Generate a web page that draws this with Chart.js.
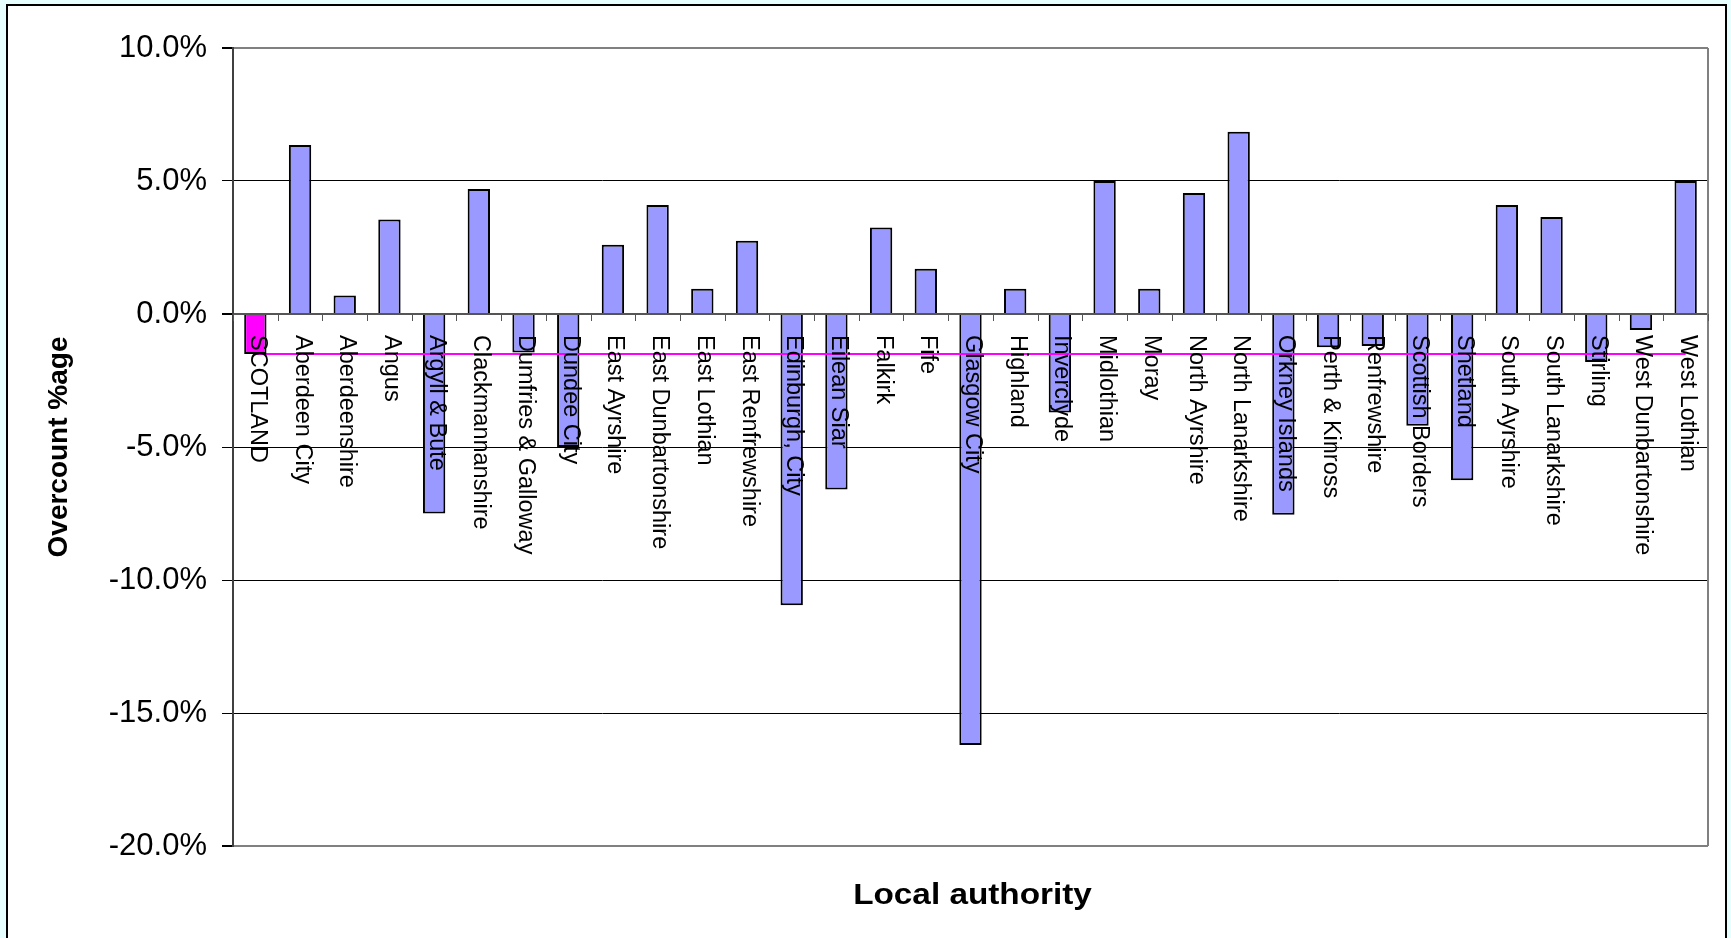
<!DOCTYPE html>
<html>
<head>
<meta charset="utf-8">
<title>Overcount by local authority</title>
<script src="https://cdn.jsdelivr.net/npm/chart.js@4"></script>
<style>
    html, body { margin: 0; padding: 0; background: #E8FFFF; }
    canvas { display: block; }
</style>
</head>
<body>
<canvas id="overcount" width="1731" height="938"></canvas>
<script>
// ─── Data ───
const categories = [
    'SCOTLAND', 'Aberdeen City', 'Aberdeenshire', 'Angus', 'Argyll & Bute',
    'Clackmannanshire', 'Dumfries & Galloway', 'Dundee City', 'East Ayrshire',
    'East Dunbartonshire', 'East Lothian', 'East Renfrewshire', 'Edinburgh, City',
    'Eilean Siar', 'Falkirk', 'Fife', 'Glasgow City', 'Highland', 'Inverclyde',
    'Midlothian', 'Moray', 'North Ayrshire', 'North Lanarkshire', 'Orkney Islands',
    'Perth & Kinross', 'Renfrewshire', 'Scottish Borders', 'Shetland',
    'South Ayrshire', 'South Lanarkshire', 'Stirling', 'West Dunbartonshire',
    'West Lothian'
];

// overcount, % of population
const overcount = [
    -1.5, 6.35, 0.7, 3.55, -7.5,
    4.7, -1.45, -5.0, 2.6,
    4.1, 0.95, 2.75, -10.95,
    -6.6, 3.25, 1.7, -16.2, 0.95, -3.7,
    5.0, 0.95, 4.55, 6.85, -7.55,
    -1.25, -1.2, -4.2, -6.25,
    4.1, 3.65, -1.8, -0.6,
    5.0
];

// Scotland level, drawn as a reference line across all authorities
const scotlandLevel = [
    -1.5, -1.5, -1.5, -1.5, -1.5, -1.5, -1.5, -1.5, -1.5, -1.5, -1.5,
    -1.5, -1.5, -1.5, -1.5, -1.5, -1.5, -1.5, -1.5, -1.5, -1.5, -1.5,
    -1.5, -1.5, -1.5, -1.5, -1.5, -1.5, -1.5, -1.5, -1.5, -1.5, -1.5
];

const yTicks = [10, 5, 0, -5, -10, -15, -20];

const FONT = "'Liberation Sans', Arial, sans-serif";

// ─── Frame, category labels, x title ───
const framePlugin = {
    id: 'frame',
    beforeDraw(chart) {
        const { ctx, width, height } = chart;
        ctx.save();
        ctx.fillStyle = '#E8FFFF';
        ctx.fillRect(0, 0, width, height);
        ctx.fillStyle = '#FFFFFF';
        ctx.fillRect(7, 5, 1719, height);
        ctx.strokeStyle = '#000';
        ctx.lineWidth = 2;
        ctx.strokeRect(7, 5, 1719, height + 20);
        ctx.restore();
    },
    beforeDatasetsDraw(chart) {
        const { ctx, chartArea } = chart;
        ctx.save();
        ctx.strokeStyle = '#808080';
        ctx.lineWidth = 2;
        ctx.beginPath();
        ctx.moveTo(chartArea.right, chartArea.top);
        ctx.lineTo(chartArea.right, chartArea.bottom);
        ctx.stroke();
        ctx.restore();
    },
    afterDatasetsDraw(chart) {
        const { ctx, chartArea } = chart;
        const xs = chart.scales.x;
        const y0 = chart.scales.y.getPixelForValue(0);
        const half = (xs.getPixelForValue(1) - xs.getPixelForValue(0)) / 2;

        ctx.save();
        // tick marks between categories, hanging from the zero line
        ctx.strokeStyle = '#555';
        ctx.lineWidth = 1;
        ctx.beginPath();
        for (let i = 0; i <= categories.length; i++) {
            const x = Math.round(xs.getPixelForValue(0) - half + i * half * 2) + 0.5;
            ctx.moveTo(x, y0);
            ctx.lineTo(x, y0 + 7);
        }
        ctx.stroke();

        // rotated category labels, reading downwards from the zero line
        ctx.fillStyle = '#000';
        ctx.font = '23.5px ' + FONT;
        ctx.textAlign = 'left';
        ctx.textBaseline = 'middle';
        categories.forEach((name, i) => {
            ctx.save();
            ctx.translate(xs.getPixelForValue(i) + 2, y0 + 21);
            ctx.rotate(Math.PI / 2);
            ctx.fillText(name, 0, 0);
            ctx.restore();
        });

        // x axis title (Excel text comes out a little wide)
        ctx.font = 'bold 30px ' + FONT;
        ctx.textAlign = 'center';
        ctx.translate((chartArea.left + chartArea.right) / 2 + 2, 896);
        ctx.scale(1.11, 1);
        ctx.fillText('Local authority', 0, 0);
        ctx.restore();
    }
};

// ─── Chart ───
new Chart(document.getElementById('overcount'), {
    type: 'bar',
    data: {
        labels: categories,
        datasets: [
            {
                label: 'Scotland',
                data: overcount.map((v, i) => (i === 0 ? v : null)),
                backgroundColor: '#FF00FF',
                borderColor: '#000',
                borderWidth: 2,
                grouped: false,
                categoryPercentage: 1,
                barPercentage: 0.5,
                order: 1
            },
            {
                type: 'line',
                label: 'Scotland level',
                data: scotlandLevel,
                borderColor: '#FF00FF',
                borderWidth: 2,
                pointRadius: 0,
                fill: false,
                order: 2
            },
            {
                label: 'Overcount',
                data: overcount.map((v, i) => (i === 0 ? null : v)),
                backgroundColor: '#9999FF',
                borderColor: '#000',
                borderWidth: 2,
                grouped: false,
                categoryPercentage: 1,
                barPercentage: 0.5,
                order: 3
            }
        ]
    },
    options: {
        responsive: false,
        animation: false,
        layout: { padding: { left: 10, top: 48, right: 23, bottom: 92 } },
        plugins: {
            legend: { display: false },
            tooltip: { enabled: false }
        },
        scales: {
            x: { display: false, offset: true },
            y: {
                min: -20,
                max: 10,
                afterBuildTicks: s => { s.ticks = yTicks.map(v => ({ value: v })); },
                afterFit: s => { s.width = 223; },
                ticks: {
                    color: '#000',
                    padding: 15,
                    font: { family: FONT, size: 31 },
                    callback: v => v.toFixed(1) + '%'
                },
                grid: {
                    color: c => {
                        const v = c.tick && c.tick.value;
                        if (v === 10 || v === -20) return '#808080';
                        if (v === 0) return '#555';
                        return '#000';
                    },
                    lineWidth: c => {
                        const v = c.tick && c.tick.value;
                        return (v === 10 || v === -20 || v === 0) ? 2 : 1;
                    },
                    tickColor: '#000',
                    tickLength: 11
                },
                border: { color: '#404040', width: 2 },
                title: {
                    display: true,
                    text: 'Overcount %age',
                    color: '#000',
                    font: { family: FONT, size: 28, weight: 'bold' },
                    padding: { top: 32, bottom: 0 }
                }
            }
        }
    },
    plugins: [framePlugin]
});
</script>
</body>
</html>
